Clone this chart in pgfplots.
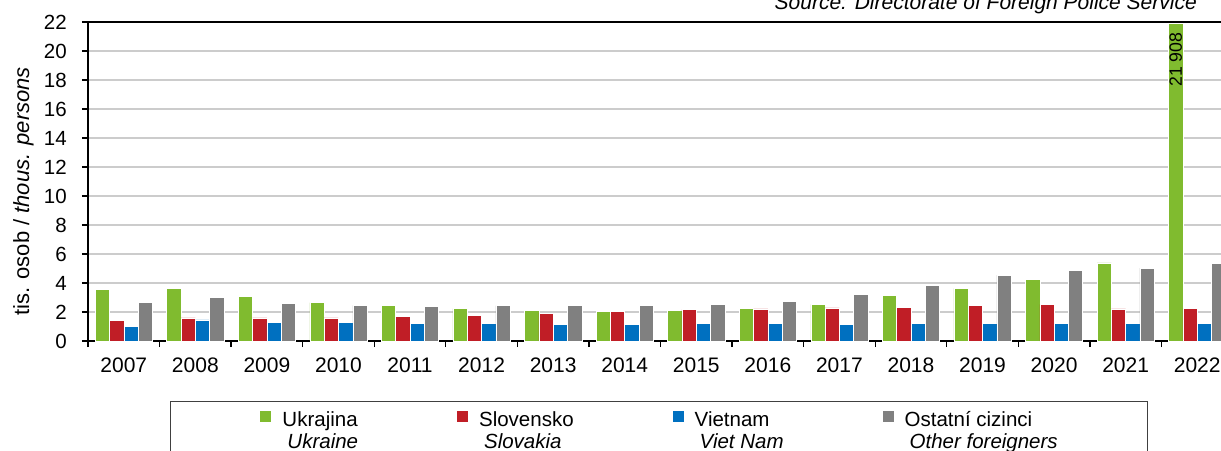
\documentclass[border=0pt]{standalone}
\usepackage{fontspec}
\setmainfont{Liberation Sans}
\usepackage{pgfplots}
\pgfplotsset{compat=1.18}

\definecolor{cUA}{RGB}{128,187,47}
\definecolor{cSK}{RGB}{192,30,38}
\definecolor{cVN}{RGB}{0,112,192}
\definecolor{cOT}{RGB}{128,128,128}

\begin{document}
\begin{tikzpicture}
\begin{axis}[
  at={(0pt,0pt)}, anchor=south west,
  scale only axis, width=1145pt, height=319pt,
  xmin=-0.5, xmax=15.5, ymin=0, ymax=22,
  xtick={-0.5,0.5,...,15.5},
  x tick label as interval,
  xticklabels={2007,2008,2009,2010,2011,2012,2013,2014,2015,2016,2017,2018,2019,2020,2021,2022},
  ytick={0,2,...,22},
  tick align=outside, xtick pos=bottom, ytick pos=left,
  major tick length=6pt,
  tick style={black, line width=1.3pt},
  axis line style={black, line width=1.6pt},
  ymajorgrids, major grid style={draw=black!20, line width=1.6pt},
  /pgf/number format/assume math mode=true,
  ticklabel style={font=\fontsize{20.5}{24}\selectfont},
  xticklabel style={anchor=north, inner sep=0pt, yshift=-11pt, font=\fontsize{21}{24}\selectfont},
  yticklabel style={anchor=east, inner sep=0pt, xshift=-15pt},
  ylabel={tis. osob / \textit{thous. persons}},
  ylabel style={at={(axis description cs:-0.0515,0.469)}, anchor=base, font=\fontsize{22}{26}\selectfont},
  legend columns=4,
  legend cell align=left,
  legend image code/.code={\fill[#1, draw=none] (0pt,1pt) rectangle (11pt,12pt);},
  legend style={at={(axis description cs:0.0716,-0.1881)}, anchor=north west,
    draw=black!75, line width=1pt, inner xsep=90pt, inner ysep=9pt,
    font=\fontsize{20.5}{24}\selectfont,
    nodes={inner sep=0pt, text height=15pt, text depth=6.7pt},
    /tikz/every even column/.append style={column sep=99pt},
    /tikz/every odd column/.append style={column sep=11pt}},
]
\addplot[ybar, bar width=0.2, bar shift=-0.3, fill=cUA, draw=white, line width=0.5pt] coordinates {
(0,3.56) (1,3.63) (2,3.06) (3,2.64) (4,2.46) (5,2.23) (6,2.09) (7,2.02)
(8,2.09) (9,2.23) (10,2.53) (11,3.17) (12,3.63) (13,4.25) (14,5.38) (15,21.908)};
\addlegendentry{Ukrajina}
\addplot[ybar, bar width=0.2, bar shift=-0.1, fill=cSK, draw=white, line width=0.5pt] coordinates {
(0,1.40) (1,1.59) (2,1.59) (3,1.59) (4,1.72) (5,1.79) (6,1.93) (7,2.05)
(8,2.16) (9,2.21) (10,2.28) (11,2.34) (12,2.44) (13,2.53) (14,2.21) (15,2.23)};
\addlegendentry{Slovensko}
\addplot[ybar, bar width=0.2, bar shift=0.1, fill=cVN, draw=white, line width=0.5pt] coordinates {
(0,1.03) (1,1.45) (2,1.29) (3,1.26) (4,1.20) (5,1.22) (6,1.17) (7,1.15)
(8,1.22) (9,1.20) (10,1.17) (11,1.22) (12,1.22) (13,1.22) (14,1.22) (15,1.22)};
\addlegendentry{Vietnam}
\addplot[ybar, bar width=0.2, bar shift=0.3, fill=cOT, draw=white, line width=0.5pt] coordinates {
(0,2.64) (1,2.99) (2,2.57) (3,2.46) (4,2.39) (5,2.44) (6,2.48) (7,2.46)
(8,2.53) (9,2.71) (10,3.20) (11,3.82) (12,4.55) (13,4.87) (14,5.03) (15,5.36)};
\addlegendentry{Ostatní cizinci}
\addlegendimage{empty legend}
\addlegendentry{\hspace{5pt}\textit{Ukraine}}
\addlegendimage{empty legend}
\addlegendentry{\hspace{5pt}\textit{Slovakia}}
\addlegendimage{empty legend}
\addlegendentry{\hspace{5pt}\textit{Viet Nam}}
\addlegendimage{empty legend}
\addlegendentry{\hspace{5pt}\textit{Other foreigners}}
\addplot[ybar, bar width=0.2, bar shift=0, draw=none, fill=none, forget plot,
  nodes near coords={21 908},
  every node near coord/.append style={rotate=90, anchor=east, inner xsep=9pt, inner ysep=0pt,
    font=\fontsize{17.7}{20}\selectfont, text=black}]
  coordinates {(14.7,21.908)};
\end{axis}
\node[anchor=base east, inner sep=0pt, font=\itshape\fontsize{21}{24}\selectfont] at (1109pt,331pt) {Source: Directorate of Foreign Police Service};
\pgfresetboundingbox
\path[use as bounding box] (-88pt,-109pt) rectangle (1133pt,341pt);
\end{tikzpicture}
\end{document}
